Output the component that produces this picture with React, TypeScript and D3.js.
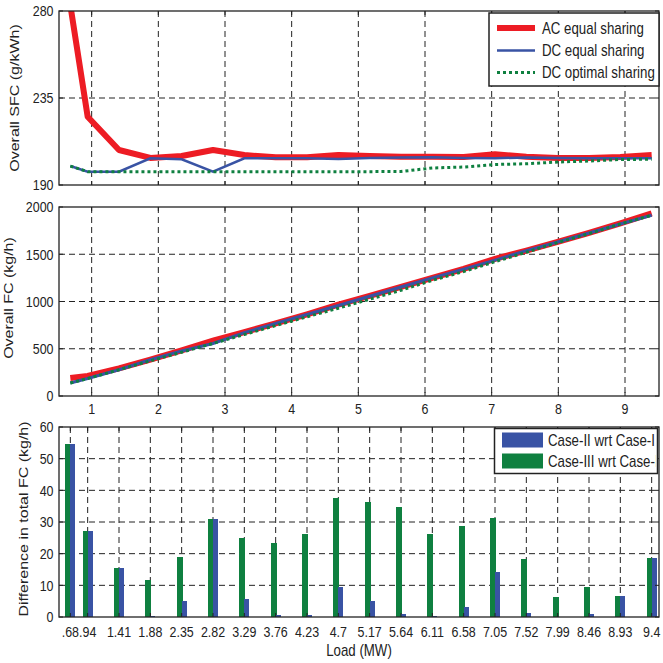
import React from "react";
import * as d3 from "d3";

const W = 663;
const H = 663;
const left = 59;
const right = 659;

const loads = [0.68, 0.94, 1.41, 1.88, 2.35, 2.82, 3.29, 3.76, 4.23, 4.7, 5.17, 5.64, 6.11, 6.58, 7.05, 7.52, 7.99, 8.46, 8.93, 9.4];
const loadLabels = [".68", ".94", "1.41", "1.88", "2.35", "2.82", "3.29", "3.76", "4.23", "4.7", "5.17", "5.64", "6.11", "6.58", "7.05", "7.52", "7.99", "8.46", "8.93", "9.4"];

// overall SFC (g/kWh)
const sfcAC = [283, 225.3, 208.1, 204, 205, 208.1, 205.5, 204.3, 204.3, 205.5, 205, 204.6, 204.6, 204.5, 205.9, 204.6, 204, 204, 204.5, 205.5];
const sfcDCeq = [199.8, 196.9, 196.9, 203.8, 203.3, 196.9, 203.8, 203.8, 203.8, 203.5, 204, 204.2, 204.3, 204, 203.9, 204.2, 204, 203.9, 203.8, 203.8];
const sfcDCopt = [199.8, 196.9, 196.9, 196.9, 196.9, 196.9, 196.9, 196.9, 196.9, 196.9, 196.9, 197, 198.8, 199.3, 200.6, 201, 201.9, 202.4, 203.2, 203.3];

// overall FC (kg/h)
const fcAC = [191, 212, 293, 384, 482, 587, 676, 768, 864, 966, 1060, 1154, 1250, 1346, 1452, 1539, 1630, 1726, 1826, 1932];
const fcDCeq = [137, 185, 278, 384, 477, 556, 670, 768, 863, 957, 1055, 1153, 1250, 1343, 1438, 1538, 1630, 1725, 1820, 1913];
const fcDCopt = [137, 185, 278, 372, 463, 556, 651, 745, 838, 929, 1024, 1119, 1224, 1317, 1421, 1521, 1624, 1717, 1820, 1913];

// difference in total FC (kg/h)
const diffCase2 = [54.7, 27.1, 15.4, 0.3, 4.9, 30.8, 5.6, 0.5, 0.5, 9.4, 4.9, 0.8, 0.2, 3.1, 14.1, 1.2, 0, 0.8, 6.5, 18.5];
const diffCase3 = [54.7, 27.1, 15.4, 11.6, 18.8, 30.8, 24.8, 23.3, 26.1, 37.5, 36.2, 34.6, 26.1, 28.6, 31.2, 18.2, 6.2, 9.4, 6.5, 18.5];

const sfcTicks = [190, 235, 280];
const fcTicks = [0, 500, 1000, 1500, 2000];
const diffTicks = [0, 10, 20, 30, 40, 50, 60];
const xTicks = [1, 2, 3, 4, 5, 6, 7, 8, 9];

const RED = "#ed1c24";
const BLUE = "#3953a4";
const GREEN = "#0f8040";
const FONT = "'Liberation Sans', Arial, sans-serif";
const SX = 0.83;

const x = d3.scaleLinear().domain([0.51, 9.51]).range([left, right]);
const panels = {
  top: { y0: 11, y1: 185 },
  mid: { y0: 207, y1: 396 },
  bot: { y0: 427, y1: 617 },
};
const ySfc = d3.scaleLinear().domain([190, 280]).range([panels.top.y1, panels.top.y0]);
const yFc = d3.scaleLinear().domain([0, 2000]).range([panels.mid.y1, panels.mid.y0]);
const yDiff = d3.scaleLinear().domain([0, 60]).range([panels.bot.y1, panels.bot.y0]);

function T({ x, y, anchor = "middle", size = 15, children }: any) {
  return (
    <text transform={`translate(${x},${y}) scale(${SX},1)`} textAnchor={anchor} fontSize={size} fontFamily={FONT} fill="#222">
      {children}
    </text>
  );
}

function YTitle({ x, y, children }: any) {
  return (
    <text transform={`translate(${x},${y}) scale(${SX},1) rotate(-90)`} textAnchor="middle" fontSize={16} fontFamily={FONT} fill="#222">
      {children}
    </text>
  );
}

function Frame({ p, yScale, yTicks, xVals }: any) {
  return (
    <g>
      {xVals.map((v: number, i: number) => (
        <line key={"gx" + i} x1={x(v)} x2={x(v)} y1={p.y0} y2={p.y1} stroke="#222" strokeDasharray="6,4" strokeWidth={1} />
      ))}
      {yTicks.slice(1, -1).map((v: number, i: number) => (
        <line key={"gy" + i} x1={left} x2={right} y1={yScale(v)} y2={yScale(v)} stroke="#222" strokeDasharray="6,4" strokeWidth={1} />
      ))}
    </g>
  );
}

function Box({ p, yScale, yTicks, xVals }: any) {
  return (
    <g>
      {xVals.map((v: number, i: number) => (
        <g key={"tx" + i}>
          <line x1={x(v)} x2={x(v)} y1={p.y1} y2={p.y1 - 4} stroke="#222" />
          <line x1={x(v)} x2={x(v)} y1={p.y0} y2={p.y0 + 4} stroke="#222" />
        </g>
      ))}
      {yTicks.map((v: number, i: number) => (
        <g key={"ty" + i}>
          <line x1={left} x2={left + 4} y1={yScale(v)} y2={yScale(v)} stroke="#222" />
          <line x1={right} x2={right - 4} y1={yScale(v)} y2={yScale(v)} stroke="#222" />
          <T x={53.5} y={yScale(v) + 5.3} anchor="end">{v}</T>
        </g>
      ))}
      <rect x={left} y={p.y0} width={right - left} height={p.y1 - p.y0} fill="none" stroke="#222" strokeWidth={1.3} />
    </g>
  );
}

export default function App() {
  const line = (ys: number[], yScale: any) =>
    d3.line<number>().x((_, i) => x(loads[i])).y((d) => yScale(d))(ys) as string;
  const bw = 0.078;

  return (
    <svg width={W} height={H} style={{ position: "absolute", left: 0, top: 0, background: "#fff" }}>
      <defs>
        {Object.entries(panels).map(([k, p]) => (
          <clipPath id={"clip-" + k} key={k}>
            <rect x={left} y={p.y0} width={right - left} height={p.y1 - p.y0} />
          </clipPath>
        ))}
        <clipPath id="clip-leg2">
          <rect x={494} y={427} width={162} height={48} />
        </clipPath>
      </defs>
      <rect width={W} height={H} fill="#fff" />

      {/* top panel: SFC */}
      <Frame p={panels.top} yScale={ySfc} yTicks={sfcTicks} xVals={xTicks} />
      <g clipPath="url(#clip-top)" fill="none">
        <path d={line(sfcAC, ySfc)} stroke={RED} strokeWidth={6} strokeLinejoin="round" />
        <path d={line(sfcDCeq, ySfc)} stroke={BLUE} strokeWidth={2.5} />
        <path d={line(sfcDCopt, ySfc)} stroke={GREEN} strokeWidth={3} strokeDasharray="3,3" />
      </g>
      <Box p={panels.top} yScale={ySfc} yTicks={sfcTicks} xVals={xTicks} />
      <YTitle x={19} y={98}>Overall SFC (g/kWh)</YTitle>
      <g>
        <rect x={489} y={13} width={170} height={73} fill="#fff" stroke="#222" strokeWidth={1.5} />
        <line x1={497} x2={535} y1={28} y2={28} stroke={RED} strokeWidth={6} />
        <line x1={497} x2={535} y1={50.5} y2={50.5} stroke={BLUE} strokeWidth={2.5} />
        <line x1={497} x2={535} y1={72.5} y2={72.5} stroke={GREEN} strokeWidth={3} strokeDasharray="3,3" />
        <T x={542} y={33.5} anchor="start" size={16}>AC equal sharing</T>
        <T x={542} y={56} anchor="start" size={16}>DC equal sharing</T>
        <T x={542} y={78} anchor="start" size={16}>DC optimal sharing</T>
      </g>

      {/* middle panel: FC */}
      <Frame p={panels.mid} yScale={yFc} yTicks={fcTicks} xVals={xTicks} />
      <g clipPath="url(#clip-mid)" fill="none">
        <path d={line(fcAC, yFc)} stroke={RED} strokeWidth={6} />
        <path d={line(fcDCeq, yFc)} stroke={BLUE} strokeWidth={3} />
        <path d={line(fcDCopt, yFc)} stroke={GREEN} strokeWidth={3} strokeDasharray="3,3" />
      </g>
      <Box p={panels.mid} yScale={yFc} yTicks={fcTicks} xVals={xTicks} />
      {xTicks.map((v) => (
        <T key={v} x={x(v)} y={414}>{v}</T>
      ))}
      <YTitle x={13} y={298}>Overall FC (kg/h)</YTitle>

      {/* bottom panel: differences */}
      <Frame p={panels.bot} yScale={yDiff} yTicks={diffTicks} xVals={loads} />
      <g clipPath="url(#clip-bot)" shapeRendering="crispEdges">
        {loads.map((v, i) => {
          const c = Math.round(x(v));
          const w = Math.round(x(v) - x(v - bw));
          return (
            <g key={i}>
              <rect x={c - w} width={w + 1} y={yDiff(diffCase3[i])} height={yDiff(0) - yDiff(diffCase3[i])} fill={GREEN} />
              <rect x={c} width={w} y={yDiff(diffCase2[i])} height={yDiff(0) - yDiff(diffCase2[i])} fill={BLUE} />
            </g>
          );
        })}
      </g>
      <Box p={panels.bot} yScale={yDiff} yTicks={diffTicks} xVals={loads} />
      {loads.map((v, i) => (
        <T key={i} x={x(v)} y={636.5}>{loadLabels[i]}</T>
      ))}
      <T x={359} y={655.5} size={16}>Load (MW)</T>
      <YTitle x={28} y={519}>Difference in total FC (kg/h)</YTitle>
      <g>
        <rect x={494.5} y={428.5} width={163} height={45} fill="#fff" />
        <rect x={502} y={432.5} width={41} height={15} fill={BLUE} />
        <rect x={502} y={453.5} width={41} height={15} fill={GREEN} />
        <g clipPath="url(#clip-leg2)">
          <T x={548} y={446} anchor="start" size={16}>Case-II wrt Case-I</T>
          <T x={548} y={466.5} anchor="start" size={16}>Case-III wrt Case-I</T>
        </g>
        <rect x={494.5} y={428.5} width={163} height={45} fill="none" stroke="#222" strokeWidth={1.5} />
      </g>
    </svg>
  );
}
